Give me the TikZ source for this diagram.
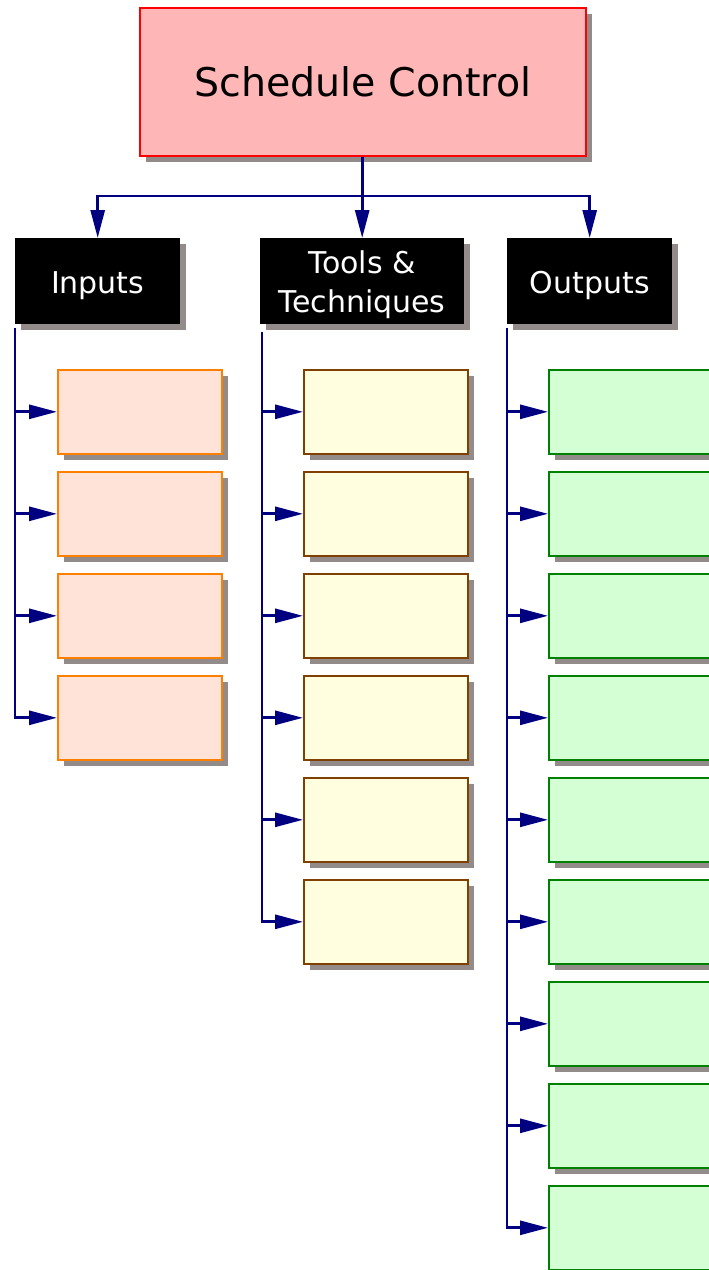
\documentclass[tikz,border=0pt]{standalone}
\usepackage{fontspec}
\setmainfont{DejaVu Sans}
\usetikzlibrary{arrows.meta,shadows}

\definecolor{rootfill}{HTML}{FFB6B6}
\definecolor{infill}{HTML}{FFE2D8}
\definecolor{inborder}{HTML}{FF8000}
\definecolor{ttfill}{HTML}{FFFFE0}
\definecolor{ttborder}{HTML}{804000}
\definecolor{outfill}{HTML}{D4FFD4}
\definecolor{outborder}{HTML}{008000}
\definecolor{linkcol}{HTML}{000080}
\definecolor{shadowcol}{HTML}{938A8A}

\tikzset{
  shade box/.style={drop shadow={shadow xshift=6pt,shadow yshift=-6pt,fill=shadowcol,draw=none,opacity=1}},
  rootbox/.style={shade box,draw=red,fill=rootfill,line width=1.6pt,anchor=north west,
    minimum width=446pt,minimum height=148pt,font=\fontsize{39.5}{46}\selectfont},
  headbox/.style={shade box,fill=black,text=white,anchor=north west,align=center,
    minimum height=86pt,inner sep=0pt,text height=25pt,text depth=0pt,
    font=\fontsize{30}{39}\selectfont},
  inbox/.style={shade box,draw=inborder,fill=infill,line width=1.6pt,anchor=north west,
    minimum width=164pt,minimum height=84pt},
  ttbox/.style={inbox,draw=ttborder,fill=ttfill},
  outbox/.style={inbox,draw=outborder,fill=outfill,minimum width=170pt},
  link/.style={draw=linkcol,line width=2.8pt,-{Triangle[length=28pt,width=14pt]}}
}

\begin{document}
\begin{tikzpicture}[x=1pt,y=-1pt]
  \useasboundingbox (0,0) rectangle (709,1270);

  %% root
  \node[rootbox] (sc) at (139,7) {Schedule Control};
  \coordinate (split) at (sc.south |- 0,196);

  %% headers
  \node[headbox,minimum width=165pt] (in) at (15,238) {Inputs};
  \node[headbox,minimum width=204pt,text height=62pt] (tt) at (260,238) {Tools \&\\Techniques};
  \node[headbox,minimum width=165pt] (out) at (507,238) {Outputs};

  \draw[link] (sc.south) -- (split) -| (in.north);
  \draw[link] (split) -| (tt.north);
  \draw[link] (split) -| (out.north);

  %% inputs
  \node[inbox] (in1) at (57,369) {};
  \node[inbox] (in2) at (57,471) {};
  \node[inbox] (in3) at (57,573) {};
  \node[inbox] (in4) at (57,675) {};

  %% tools and techniques
  \node[ttbox] (tt1) at (303,369) {};
  \node[ttbox] (tt2) at (303,471) {};
  \node[ttbox] (tt3) at (303,573) {};
  \node[ttbox] (tt4) at (303,675) {};
  \node[ttbox] (tt5) at (303,777) {};
  \node[ttbox] (tt6) at (303,879) {};

  %% outputs
  \node[outbox] (out1) at (548,369) {};
  \node[outbox] (out2) at (548,471) {};
  \node[outbox] (out3) at (548,573) {};
  \node[outbox] (out4) at (548,675) {};
  \node[outbox] (out5) at (548,777) {};
  \node[outbox] (out6) at (548,879) {};
  \node[outbox] (out7) at (548,981) {};
  \node[outbox] (out8) at (548,1083) {};
  \node[outbox] (out9) at (548,1185) {};

  %% branch lines
  \coordinate (inbar) at (15,328);
  \coordinate (ttbar) at (262,332);
  \coordinate (outbar) at (507,328);

  \draw[link] (inbar) |- (in1.west);
  \draw[link] (inbar) |- (in2.west);
  \draw[link] (inbar) |- (in3.west);
  \draw[link] (inbar) |- (in4.west);

  \draw[link] (ttbar) |- (tt1.west);
  \draw[link] (ttbar) |- (tt2.west);
  \draw[link] (ttbar) |- (tt3.west);
  \draw[link] (ttbar) |- (tt4.west);
  \draw[link] (ttbar) |- (tt5.west);
  \draw[link] (ttbar) |- (tt6.west);

  \draw[link] (outbar) |- (out1.west);
  \draw[link] (outbar) |- (out2.west);
  \draw[link] (outbar) |- (out3.west);
  \draw[link] (outbar) |- (out4.west);
  \draw[link] (outbar) |- (out5.west);
  \draw[link] (outbar) |- (out6.west);
  \draw[link] (outbar) |- (out7.west);
  \draw[link] (outbar) |- (out8.west);
  \draw[link] (outbar) |- (out9.west);
\end{tikzpicture}
\end{document}
